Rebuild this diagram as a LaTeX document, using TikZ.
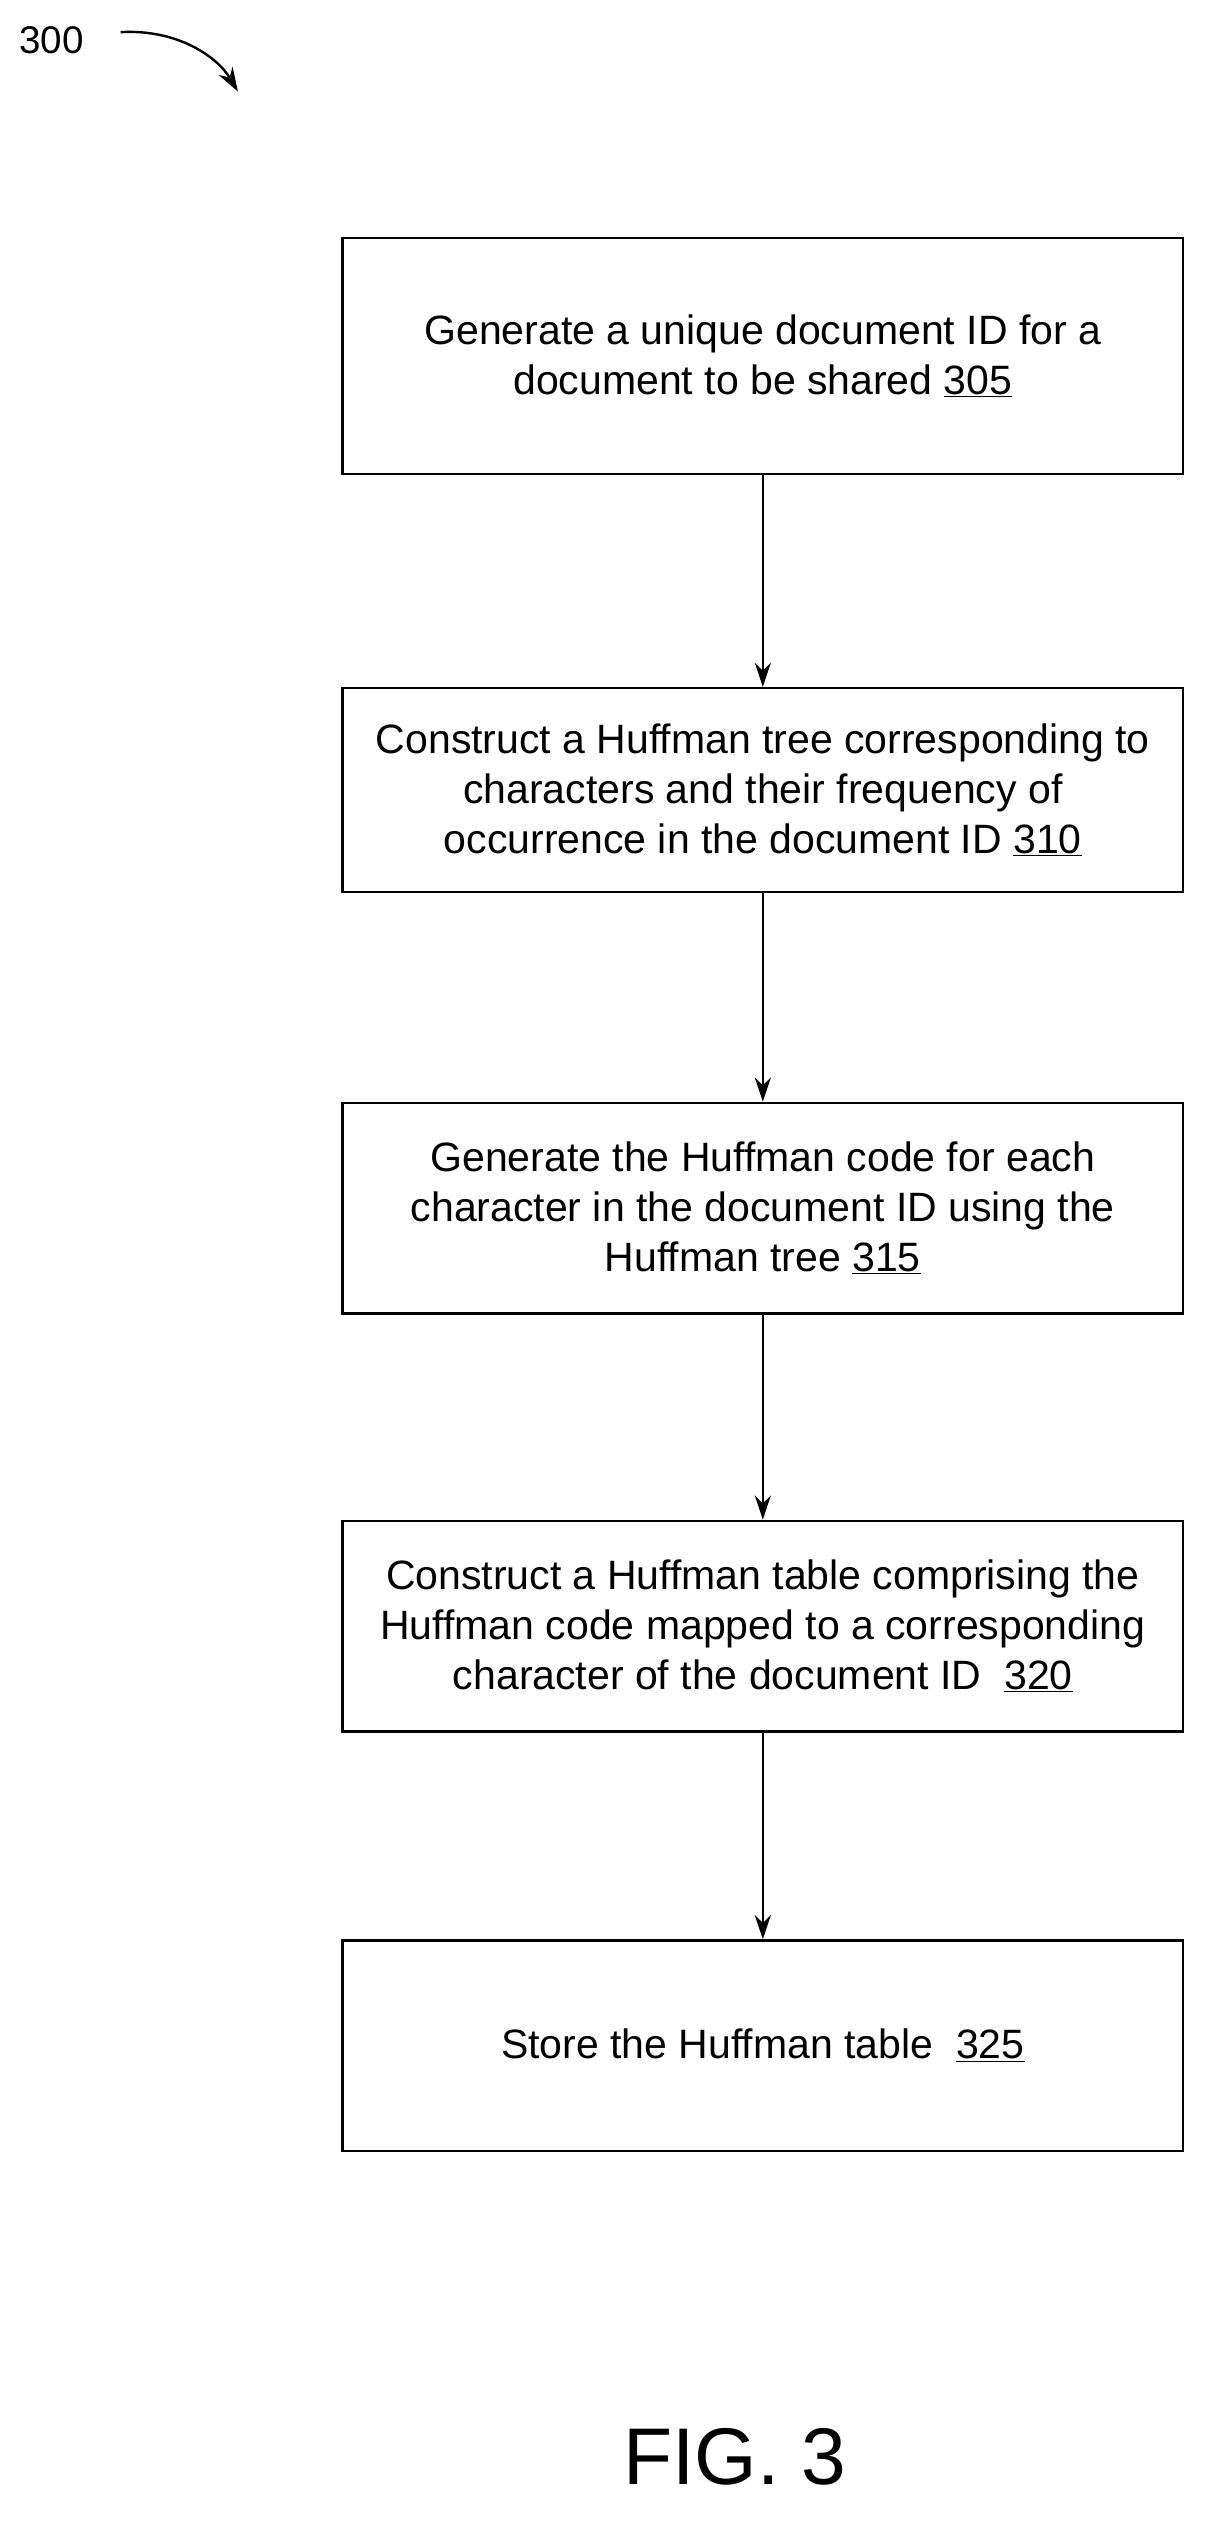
\documentclass[tikz,border=0pt]{standalone}
\usepackage{fontspec}
\setmainfont{Liberation Sans}
\usetikzlibrary{arrows.meta}
\begin{document}
\begin{tikzpicture}[x=1pt,y=-1pt,
  box/.style={draw,line width=1.5pt,minimum width=523pt,align=center,font=\fontsize{25.5}{31}\selectfont,inner sep=0pt},
  arr/.style={-{Stealth[length=15pt,width=10pt]},line width=1.5pt}]
\useasboundingbox (0,0) rectangle (750,1570);
\node[box,minimum height=147pt] (b1) at (474.5,221.5) {Generate a unique document ID for a\\document to be shared \underline{305}};
\node[box,minimum height=127pt] (b2) at (474.5,491.5) {Construct a Huffman tree corresponding to\\characters and their frequency of\\occurrence in the document ID \underline{310}};
\node[box,minimum height=131pt] (b3) at (474.5,751.5) {Generate the Huffman code for each\\character in the document ID using the\\Huffman tree \underline{315}};
\node[box,minimum height=131pt] (b4) at (474.5,1011.5) {Construct a Huffman table comprising the\\Huffman code mapped to a corresponding\\character of the document ID\ \ \underline{320}};
\node[box,minimum height=131pt] (b5) at (474.5,1272.5) {Store the Huffman table\ \ \underline{325}};
\draw[arr] (b1) -- (b2);
\draw[arr] (b2) -- (b3);
\draw[arr] (b3) -- (b4);
\draw[arr] (b4) -- (b5);
\node[font=\fontsize{24}{28}\selectfont] (lbl) at (32,25) {300};
\coordinate (ae) at (148,57);
\draw[arr] (75,20) .. controls (110,18) and (135,35) .. (ae);
\node[font=\fontsize{50}{55}\selectfont] (fig) at (457,1528) {FIG. 3};
\end{tikzpicture}
\end{document}
